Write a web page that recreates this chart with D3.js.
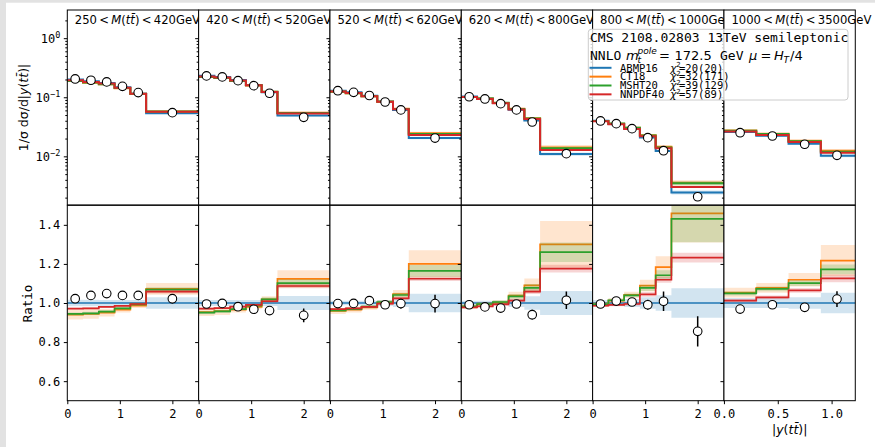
<!DOCTYPE html>
<html><head><meta charset="utf-8">
<script src="https://cdn.jsdelivr.net/npm/d3@7"></script>
<style>body{margin:0;background:#fff} svg{display:block}</style>
</head><body><svg id="c" width="875" height="447"></svg>
<script>
// ---------------- data ----------------
const massLow  = ["250","420","520","620","800","1000"];
const massHigh = ["420","520","620","800","1000","3500"];
const edgesMain = [0,0.3,0.6,0.9,1.2,1.5,2.5];
const edgesLast = [0,0.3,0.6,0.9,1.22];
const centersMain = [0.15,0.45,0.75,1.05,1.35,2.0];
const centersLast = [0.15,0.45,0.75,1.05];
const xTicksMain = [0,1,2];
const xTicksLast = [0,0.5,1.0];
const ratioTicks = [0.6,0.8,1.0,1.2,1.4];
const logMajorTicks = [1,0.1,0.01];
const logTickLabels = ["0","\u22121","\u22122"];

const pdfNames = ["ABMP16","CT18","MSHT20","NNPDF40"];
const pdfChi = ["20(20)","32(171)","39(129)","57(89)"];
const pdfColors = ["#1f77b4","#ff7f0e","#2ca02c","#d62728"];

// ABMP16 absolute prediction (1/sigma dsigma/d|y|)
const abmpAbs = [
  [0.200,0.187,0.174,0.147,0.115,0.0537],
  [0.231,0.221,0.195,0.162,0.122,0.0489],
  [0.129,0.121,0.106,0.084,0.061,0.0205],
  [0.103,0.0955,0.080,0.0613,0.0405,0.0109],
  [0.0399,0.0353,0.0293,0.0209,0.0123,0.00245],
  [0.0259,0.0223,0.0164,0.0102]
];
// ratios to ABMP16
const abmpRatio = [
  [1,1,1,1,1,1],[1,1,1,1,1,1],[1,1,1,1,1,1],[1,1,1,1,1,1],[1,1,1,1,1,1],[1,1,1,1]
];
const ct18Ratio = [
  [0.940,0.944,0.951,0.966,0.986,1.072],
  [0.954,0.958,0.966,0.980,1.019,1.123],
  [0.959,0.966,0.978,1.002,1.046,1.200],
  [0.981,0.993,1.002,1.038,1.090,1.300],
  [0.993,1.012,1.042,1.089,1.184,1.459],
  [1.053,1.077,1.119,1.217]
];
const mshtRatio = [
  [0.944,0.947,0.956,0.973,0.993,1.068],
  [0.951,0.957,0.969,0.986,1.019,1.102],
  [0.962,0.969,0.981,1.005,1.041,1.164],
  [0.983,0.995,1.005,1.034,1.077,1.260],
  [0.993,1.014,1.039,1.077,1.142,1.431],
  [1.049,1.072,1.102,1.172]
];
const nnpdfRatio = [
  [0.971,0.973,0.980,0.985,0.995,1.058],
  [0.971,0.974,0.981,0.990,1.009,1.087],
  [0.969,0.973,0.980,0.997,1.024,1.124],
  [0.978,0.983,0.993,1.012,1.058,1.176],
  [0.986,0.990,0.995,1.044,1.119,1.232],
  [1.012,1.029,1.065,1.126]
];
// half-widths of the uncertainty bands (ratio units)
const abmpBand = [
  [0.017,0.017,0.015,0.015,0.015,0.030],
  [0.015,0.015,0.015,0.015,0.015,0.036],
  [0.012,0.012,0.012,0.015,0.020,0.047],
  [0.012,0.012,0.012,0.020,0.035,0.062],
  [0.015,0.015,0.020,0.030,0.040,0.075],
  [0.025,0.025,0.030,0.053]
];
const ct18Band = [
  [0.025,0.025,0.020,0.015,0.012,0.030],
  [0.020,0.020,0.015,0.012,0.015,0.045],
  [0.015,0.015,0.012,0.012,0.020,0.070],
  [0.012,0.012,0.012,0.020,0.035,0.120],
  [0.012,0.012,0.015,0.030,0.055,0.150],
  [0.025,0.025,0.035,0.080]
];
const mshtBand = [
  [0.008,0.008,0.008,0.008,0.008,0.012],
  [0.008,0.008,0.008,0.008,0.010,0.020],
  [0.008,0.008,0.008,0.008,0.012,0.030],
  [0.008,0.008,0.008,0.012,0.020,0.050],
  [0.008,0.008,0.010,0.015,0.025,0.120],
  [0.010,0.012,0.015,0.025]
];
const nnpdfBand = [
  [0.005,0.005,0.005,0.005,0.006,0.010],
  [0.005,0.005,0.005,0.006,0.007,0.012],
  [0.005,0.005,0.005,0.006,0.008,0.012],
  [0.005,0.005,0.006,0.008,0.012,0.020],
  [0.005,0.006,0.008,0.012,0.015,0.025],
  [0.008,0.010,0.012,0.020]
];
// measured data
const dataAbs = [
  [0.204,0.194,0.182,0.153,0.120,0.0548],
  [0.230,0.221,0.191,0.157,0.117,0.0458],
  [0.129,0.121,0.107,0.0832,0.061,0.0204],
  [0.102,0.0936,0.078,0.061,0.0381,0.0111],
  [0.0397,0.0357,0.0294,0.0207,0.01245,0.00207],
  [0.0251,0.0221,0.0160,0.0104]
];
const dataRatio = [
  [1.022,1.039,1.048,1.039,1.039,1.022],
  [0.995,0.998,0.981,0.968,0.961,0.937],
  [0.997,0.998,1.012,0.991,0.997,0.997],
  [0.991,0.980,0.974,0.995,0.940,1.014],
  [0.995,1.010,1.005,0.991,1.009,0.855],
  [0.969,0.991,0.978,1.020]
];
const dataRatioErr = [
  [0.018,0.018,0.018,0.018,0.018,0.024],
  [0.015,0.015,0.015,0.015,0.020,0.035],
  [0.015,0.015,0.015,0.015,0.025,0.045],
  [0.012,0.012,0.012,0.012,0.025,0.045],
  [0.012,0.012,0.020,0.025,0.050,0.077],
  [0.012,0.020,0.020,0.040]
];
const ratios = [abmpRatio, ct18Ratio, mshtRatio, nnpdfRatio];
const bands  = [abmpBand, ct18Band, mshtBand, nnpdfBand];

// ---------------- layout ----------------
const svg = d3.select("#c");
const MONO = "'DejaVu Sans Mono', monospace";
const SANS = "'DejaVu Sans', sans-serif";
svg.append("rect").attr("width",875).attr("height",447).attr("fill","#fff");
svg.append("rect").attr("x",0).attr("y",0).attr("width",875).attr("height",2.7).attr("fill","#e2e2e2");
svg.append("rect").attr("x",0).attr("y",0).attr("width",6).attr("height",447).attr("fill","#e2e2e2");

const L0 = 67.3, PW = 131.33;
const topY0 = 10, topY1 = 205, ratY0 = 205.3, ratY1 = 400.7;
const yTop = d3.scaleLog().domain([0.0015, 3.0]).range([topY1, topY0]);
const yRat = d3.scaleLinear().domain([0.5, 1.5]).range([ratY1, ratY0]);

const defs = svg.append("defs");

function stepPts(edges, vals){
  const pts = [];
  vals.forEach((v,i)=>{ pts.push([edges[i], v]); pts.push([edges[i+1], v]); });
  return pts;
}
function bandPts(edges, lo, hi){
  const pts = [];
  lo.forEach((v,i)=>{ pts.push([edges[i], lo[i], hi[i]]); pts.push([edges[i+1], lo[i], hi[i]]); });
  return pts;
}
const THIN = "\u2009";

for (let p = 0; p < 6; p++) {
  const last = p === 5;
  const edges = last ? edgesLast : edgesMain;
  const centers = last ? centersLast : centersMain;
  const left = L0 + p*PW, right = left + PW;
  const x = d3.scaleLinear().domain([0, edges[edges.length-1]]).range([left, right]);

  const g = svg.append("g");
  g.append("rect").attr("x",left).attr("y",topY0).attr("width",PW).attr("height",topY1-topY0).attr("fill","#fff");
  g.append("rect").attr("x",left).attr("y",ratY0).attr("width",PW).attr("height",ratY1-ratY0).attr("fill","#fff");

  defs.append("clipPath").attr("id","ct"+p).append("rect")
    .attr("x",left).attr("y",topY0).attr("width",PW).attr("height",topY1-topY0);
  defs.append("clipPath").attr("id","cr"+p).append("rect")
    .attr("x",left).attr("y",ratY0).attr("width",PW).attr("height",ratY1-ratY0);

  const gt = g.append("g").attr("clip-path","url(#ct"+p+")");
  const gr = g.append("g").attr("clip-path","url(#cr"+p+")");

  const lineTop = d3.line().x(d=>x(d[0])).y(d=>yTop(d[1]));
  const areaTop = d3.area().x(d=>x(d[0])).y0(d=>yTop(d[1])).y1(d=>yTop(d[2]));
  const lineRat = d3.line().x(d=>x(d[0])).y(d=>yRat(d[1]));
  const areaRat = d3.area().x(d=>x(d[0])).y0(d=>yRat(d[1])).y1(d=>yRat(d[2]));

  for (let k = 0; k < 4; k++) {
    const r = ratios[k][p], b = bands[k][p], a = abmpAbs[p];
    const lo = r.map((v,i)=>v-b[i]), hi = r.map((v,i)=>v+b[i]);
    gr.append("path").attr("d", areaRat(bandPts(edges, lo, hi)))
      .attr("fill", pdfColors[k]).attr("fill-opacity",0.2).attr("stroke","none");
    gr.append("path").attr("d", lineRat(stepPts(edges, r)))
      .attr("fill","none").attr("stroke",pdfColors[k]).attr("stroke-width",1.7);
    const absV = a.map((v,i)=>v*r[i]);
    const absLo = a.map((v,i)=>v*lo[i]), absHi = a.map((v,i)=>v*hi[i]);
    gt.append("path").attr("d", areaTop(bandPts(edges, absLo, absHi)))
      .attr("fill", pdfColors[k]).attr("fill-opacity",0.2).attr("stroke","none");
    gt.append("path").attr("d", lineTop(stepPts(edges, absV)))
      .attr("fill","none").attr("stroke",pdfColors[k]).attr("stroke-width",2);
  }
  centers.forEach((c,i)=>{
    gr.append("line").attr("x1",x(c)).attr("x2",x(c))
      .attr("y1",yRat(dataRatio[p][i]-dataRatioErr[p][i]))
      .attr("y2",yRat(dataRatio[p][i]+dataRatioErr[p][i]))
      .attr("stroke","#000").attr("stroke-width",1.5);
    gr.append("circle").attr("cx",x(c)).attr("cy",yRat(dataRatio[p][i])).attr("r",4.3)
      .attr("fill","#fff").attr("stroke","#000").attr("stroke-width",1.1);
    gt.append("circle").attr("cx",x(c)).attr("cy",yTop(dataAbs[p][i])).attr("r",4.3)
      .attr("fill","#fff").attr("stroke","#000").attr("stroke-width",1.1);
  });

  g.append("rect").attr("x",left).attr("y",topY0).attr("width",PW).attr("height",topY1-topY0)
    .attr("fill","none").attr("stroke","#000").attr("stroke-width",1);
  g.append("rect").attr("x",left).attr("y",ratY0).attr("width",PW).attr("height",ratY1-ratY0)
    .attr("fill","none").attr("stroke","#000").attr("stroke-width",1);

  const minor = [];
  for (let d = -3; d <= 0; d++) for (let m = 2; m <= 9; m++) {
    const v = m*Math.pow(10,d); if (v > 0.0015 && v < 3.0) minor.push(v);
  }
  const ayMinor = d3.axisLeft(yTop).tickValues(minor).tickSize(2).tickSizeOuter(0).tickFormat("");
  g.append("g").attr("transform","translate("+left+",0)").call(ayMinor)
    .call(s=>s.select(".domain").remove());
  const ayMajor = d3.axisLeft(yTop).tickValues(logMajorTicks).tickSize(3.5).tickSizeOuter(0).tickPadding(3.5)
    .tickFormat(p===0 ? (d,i)=>"10" : "");
  const gy = g.append("g").attr("transform","translate("+left+",0)").call(ayMajor)
    .call(s=>s.select(".domain").remove());
  gy.selectAll("text").attr("font-family",MONO).attr("font-size",12).attr("fill","#000")
    .each(function(d,i){
      if (p!==0) return;
      const t = d3.select(this);
      t.text(null);
      t.append("tspan").text("10");
      t.append("tspan").attr("dy",-5).attr("font-size",8.5).text(logTickLabels[i]);
    });

  const ayRat = d3.axisLeft(yRat).tickValues(ratioTicks).tickSize(3.5).tickSizeOuter(0).tickPadding(3.5)
    .tickFormat(p===0 ? d3.format(".1f") : "");
  g.append("g").attr("transform","translate("+left+",0)").call(ayRat)
    .call(s=>s.select(".domain").remove())
    .call(s=>s.selectAll("text").attr("font-family",MONO).attr("font-size",12).attr("fill","#000"));

  const ax = d3.axisBottom(x).tickValues(last ? xTicksLast : xTicksMain).tickSize(3.5).tickSizeOuter(0)
    .tickPadding(5).tickFormat(last ? d3.format(".1f") : d3.format("d"));
  g.append("g").attr("transform","translate(0,"+ratY1+")").call(ax)
    .call(s=>s.select(".domain").remove())
    .call(s=>s.selectAll("text").attr("font-family",MONO).attr("font-size",12).attr("fill","#000"));

  const tt = g.append("text").attr("x", left+7.5).attr("y",24)
    .attr("font-family",SANS).attr("font-size",11.6).attr("fill","#000");
  tt.append("tspan").text(massLow[p]+THIN+"<"+THIN);
  tt.append("tspan").attr("font-style","italic").text("M");
  tt.append("tspan").text("(");
  tt.append("tspan").attr("font-style","italic").text("t\u0074\u0304");
  tt.append("tspan").text(")");
  tt.append("tspan").text(THIN+"<"+THIN+massHigh[p]+"GeV");
}

const yl = svg.append("text").attr("transform","translate(27.5,107.5) rotate(-90)")
  .attr("text-anchor","middle").attr("font-family",SANS).attr("font-size",12.5).attr("fill","#000");
yl.append("tspan").text("1/\u03c3  d\u03c3/d|");
yl.append("tspan").attr("font-style","italic").text("y");
yl.append("tspan").text("(");
yl.append("tspan").attr("font-style","italic").text("t\u0074\u0304");
yl.append("tspan").text(")|");

svg.append("text").attr("transform","translate(31.5,303.5) rotate(-90)")
  .attr("text-anchor","middle").attr("font-family",MONO).attr("font-size",12.5).attr("fill","#000").text("Ratio");

const xl = svg.append("text").attr("x",789.7).attr("y",433.5).attr("text-anchor","middle")
  .attr("font-family",SANS).attr("font-size",12.5).attr("fill","#000");
xl.append("tspan").text("|");
xl.append("tspan").attr("font-style","italic").text("y");
xl.append("tspan").text("(");
xl.append("tspan").attr("font-style","italic").text("t\u0074\u0304");
xl.append("tspan").text(")|");

// legend
const lg = svg.append("g");
lg.append("rect").attr("x",588.3).attr("y",29.3).attr("width",259.7).attr("height",70.7).attr("rx",3)
  .attr("fill","#fff").attr("fill-opacity",0.8).attr("stroke","#cccccc").attr("stroke-width",1);
lg.append("text").attr("x",590).attr("y",41.5).attr("font-family",MONO).attr("font-size",13).attr("fill","#000")
  .text("CMS 2108.02803 13TeV semileptonic");
function lt(x,y,txt,opts){
  const t = lg.append("text").attr("x",x).attr("y",y).attr("fill","#000")
    .attr("font-family",opts.mono?MONO:SANS).attr("font-size",opts.size||13).text(txt);
  if (opts.italic) t.attr("font-style","italic");
  return t;
}
lt(590,60,"NNLO",{mono:true});
lt(626,60,"m",{italic:true});
lt(637.5,54,"pole",{italic:true,size:9});
lt(637.5,63,"t",{italic:true,size:9});
lt(659,60,"=",{});
lt(674.5,60,"172.5",{});
lt(720,60,"GeV",{mono:true});
lt(749,60,"\u03bc",{italic:true});
lt(760.5,60,"=",{});
lt(774,60,"H",{italic:true});
lt(783.5,63,"T",{italic:true,size:9});
lt(790,60,"/4",{});

const entryPad = ["ABMP16","CT18","MSHT20","NNPDF40"];
pdfNames.forEach((n,i)=>{
  const yy = 67.8 + 8.85*i;
  lg.append("line").attr("x1",589.5).attr("x2",611.5).attr("y1",yy).attr("y2",yy)
    .attr("stroke",pdfColors[i]).attr("stroke-width",2);
  lt(620,yy+3.8,entryPad[i],{mono:true,size:10.5});
  lt(670.3,yy+3.8,"\u03c7",{italic:true,size:10.5});
  lt(676.2,yy-0.8,"2",{size:7});
  lt(679,yy+3.8,"="+pdfChi[i],{mono:true,size:10.5});
});
</script>
</body></html>
